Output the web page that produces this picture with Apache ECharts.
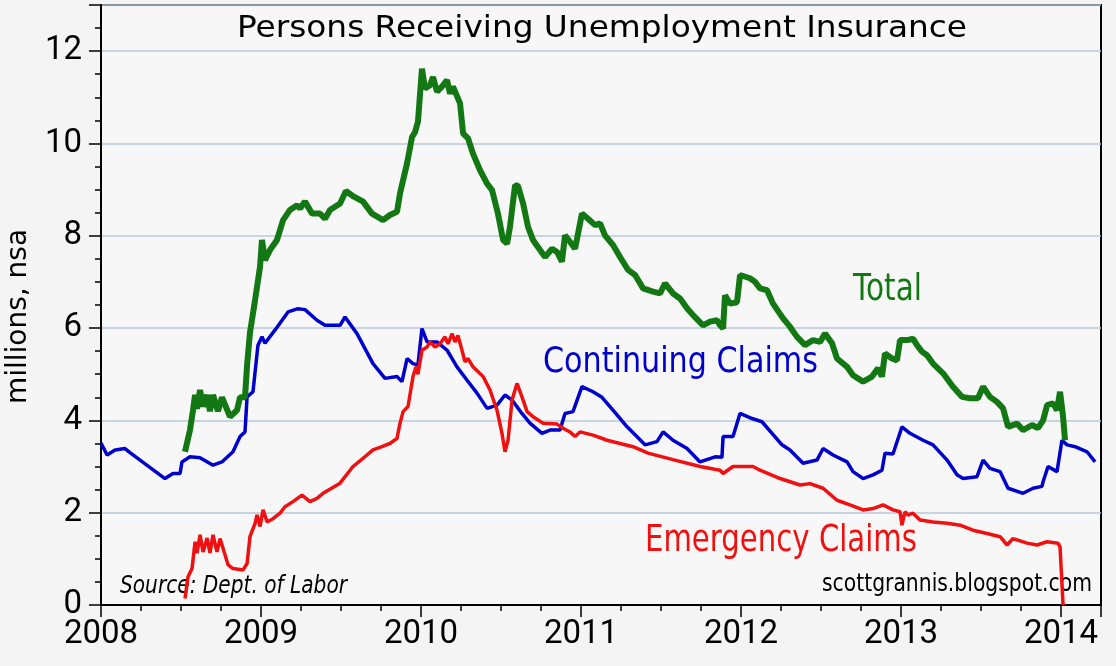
<!DOCTYPE html>
<html>
<head>
<meta charset="utf-8">
<title>Persons Receiving Unemployment Insurance</title>
<script src="https://cdn.jsdelivr.net/npm/echarts@6/dist/echarts.min.js"></script>
<style>
  html, body { margin: 0; padding: 0; background: #f4f4f4; }
  #chart { width: 1116px; height: 666px; }
</style>
</head>
<body>
<div id="chart"></div>
<script>
// millions of persons, nsa; x = decimal year
const continuingClaims = [
  [2008.000, 3.51], [2008.038, 3.25], [2008.088, 3.36], [2008.150, 3.39], [2008.181, 3.30],
  [2008.400, 2.74], [2008.450, 2.85], [2008.494, 2.85], [2008.506, 3.10], [2008.556, 3.21],
  [2008.619, 3.19], [2008.700, 3.03], [2008.756, 3.10], [2008.825, 3.32], [2008.869, 3.65],
  [2008.900, 3.75], [2008.913, 4.51], [2008.950, 4.62], [2008.981, 5.63], [2009.006, 5.81],
  [2009.025, 5.67], [2009.088, 5.96], [2009.169, 6.35], [2009.231, 6.42], [2009.275, 6.40],
  [2009.350, 6.17], [2009.400, 6.06], [2009.494, 6.06], [2009.525, 6.24], [2009.600, 5.88],
  [2009.700, 5.23], [2009.775, 4.91], [2009.850, 4.95], [2009.881, 4.84], [2009.913, 5.34],
  [2009.950, 5.23], [2009.981, 5.20], [2010.006, 5.99], [2010.038, 5.70], [2010.100, 5.70],
  [2010.163, 5.52], [2010.225, 5.16], [2010.288, 4.87], [2010.350, 4.59], [2010.413, 4.26],
  [2010.475, 4.33], [2010.525, 4.55], [2010.569, 4.44], [2010.631, 4.15], [2010.681, 3.94],
  [2010.756, 3.72], [2010.806, 3.79], [2010.869, 3.79], [2010.900, 4.15], [2010.950, 4.19],
  [2011.006, 4.73], [2011.075, 4.62], [2011.131, 4.50], [2011.200, 4.22], [2011.288, 3.86],
  [2011.400, 3.47], [2011.475, 3.54], [2011.513, 3.75], [2011.575, 3.57], [2011.663, 3.39],
  [2011.744, 3.10], [2011.838, 3.21], [2011.881, 3.20], [2011.888, 3.65], [2011.950, 3.65],
  [2011.994, 4.15], [2012.069, 4.04], [2012.131, 3.97], [2012.256, 3.47], [2012.306, 3.36],
  [2012.388, 3.07], [2012.475, 3.14], [2012.513, 3.39], [2012.575, 3.25], [2012.663, 3.10],
  [2012.700, 2.89], [2012.763, 2.74], [2012.825, 2.82], [2012.881, 2.92], [2012.900, 3.29],
  [2012.950, 3.27], [2013.006, 3.86], [2013.056, 3.72], [2013.138, 3.57], [2013.200, 3.47],
  [2013.288, 3.14], [2013.350, 2.82], [2013.388, 2.74], [2013.475, 2.78], [2013.513, 3.14],
  [2013.556, 2.96], [2013.619, 2.89], [2013.669, 2.53], [2013.763, 2.42], [2013.825, 2.53],
  [2013.881, 2.57], [2013.888, 2.67], [2013.919, 3.00], [2013.975, 2.89], [2014.006, 3.57],
  [2014.038, 3.47], [2014.088, 3.43], [2014.163, 3.32], [2014.213, 3.10]
];

const emergencyClaims = [
  [2008.525, 0.14], [2008.544, 0.61], [2008.569, 0.79], [2008.588, 1.37], [2008.600, 1.12],
  [2008.619, 1.52], [2008.638, 1.15], [2008.663, 1.45], [2008.681, 1.13], [2008.700, 1.52],
  [2008.725, 1.15], [2008.744, 1.44], [2008.794, 0.87], [2008.825, 0.79], [2008.888, 0.76],
  [2008.913, 0.90], [2008.931, 1.48], [2008.963, 1.77], [2008.975, 1.95], [2008.994, 1.70],
  [2009.013, 2.06], [2009.038, 1.80], [2009.075, 1.87], [2009.119, 1.99], [2009.150, 2.13],
  [2009.200, 2.24], [2009.256, 2.38], [2009.306, 2.24], [2009.350, 2.31], [2009.388, 2.42],
  [2009.494, 2.64], [2009.575, 3.00], [2009.638, 3.18], [2009.700, 3.36], [2009.756, 3.43],
  [2009.806, 3.50], [2009.850, 3.61], [2009.869, 3.94], [2009.888, 4.19], [2009.919, 4.30],
  [2009.950, 4.95], [2009.969, 5.16], [2009.981, 5.00], [2010.006, 5.52], [2010.038, 5.59],
  [2010.056, 5.70], [2010.088, 5.59], [2010.119, 5.66], [2010.150, 5.81], [2010.169, 5.66],
  [2010.194, 5.88], [2010.213, 5.70], [2010.231, 5.84], [2010.256, 5.52], [2010.275, 5.27],
  [2010.294, 5.34], [2010.325, 5.16], [2010.388, 4.95], [2010.431, 4.66], [2010.475, 4.22],
  [2010.506, 3.72], [2010.525, 3.32], [2010.544, 3.57], [2010.569, 4.44], [2010.600, 4.80],
  [2010.631, 4.51], [2010.663, 4.19], [2010.700, 4.08], [2010.763, 3.94], [2010.850, 3.92],
  [2010.888, 3.83], [2010.931, 3.75], [2010.963, 3.65], [2010.994, 3.75], [2011.075, 3.68],
  [2011.163, 3.57], [2011.244, 3.50], [2011.325, 3.43], [2011.419, 3.29], [2011.575, 3.15],
  [2011.744, 3.00], [2011.869, 2.92], [2011.888, 2.85], [2011.950, 3.00], [2012.075, 3.00],
  [2012.119, 2.92], [2012.244, 2.74], [2012.369, 2.60], [2012.431, 2.63], [2012.513, 2.53],
  [2012.600, 2.27], [2012.681, 2.17], [2012.763, 2.06], [2012.825, 2.09], [2012.888, 2.17],
  [2012.950, 2.06], [2012.994, 2.02], [2013.006, 1.73], [2013.025, 2.02], [2013.044, 1.95],
  [2013.075, 1.99], [2013.119, 1.84], [2013.200, 1.80], [2013.288, 1.77], [2013.369, 1.73],
  [2013.450, 1.62], [2013.538, 1.55], [2013.619, 1.48], [2013.663, 1.30], [2013.700, 1.44],
  [2013.788, 1.34], [2013.850, 1.30], [2013.913, 1.37], [2013.981, 1.34], [2013.994, 1.26],
  [2014.013, 0.00]
];

const totalClaims = [
  [2008.525, 3.32], [2008.556, 3.79], [2008.575, 4.22], [2008.588, 4.55], [2008.600, 4.25],
  [2008.619, 4.66], [2008.638, 4.30], [2008.663, 4.55], [2008.681, 4.20], [2008.700, 4.55],
  [2008.731, 4.20], [2008.756, 4.50], [2008.806, 4.08], [2008.850, 4.22], [2008.869, 4.50],
  [2008.900, 4.50], [2008.913, 5.20], [2008.931, 5.90], [2008.963, 6.61], [2008.994, 7.33],
  [2009.006, 7.91], [2009.025, 7.47], [2009.056, 7.69], [2009.100, 7.91], [2009.138, 8.34],
  [2009.181, 8.56], [2009.225, 8.66], [2009.244, 8.59], [2009.275, 8.74], [2009.319, 8.48],
  [2009.369, 8.48], [2009.400, 8.37], [2009.431, 8.56], [2009.494, 8.70], [2009.531, 8.97],
  [2009.575, 8.86], [2009.638, 8.74], [2009.694, 8.48], [2009.763, 8.34], [2009.806, 8.45],
  [2009.850, 8.52], [2009.869, 8.92], [2009.913, 9.57], [2009.944, 10.14], [2009.963, 10.25],
  [2009.981, 10.47], [2010.006, 11.62], [2010.025, 11.19], [2010.056, 11.26], [2010.075, 11.44],
  [2010.100, 11.12], [2010.131, 11.23], [2010.163, 11.37], [2010.181, 11.08], [2010.200, 11.23],
  [2010.244, 10.87], [2010.263, 10.22], [2010.294, 10.11], [2010.325, 9.78], [2010.369, 9.42],
  [2010.413, 9.13], [2010.444, 8.99], [2010.481, 8.48], [2010.513, 7.91], [2010.538, 7.83],
  [2010.556, 8.19], [2010.588, 9.10], [2010.606, 9.08], [2010.638, 8.70], [2010.669, 8.19],
  [2010.700, 7.91], [2010.744, 7.69], [2010.775, 7.54], [2010.819, 7.72], [2010.850, 7.65],
  [2010.881, 7.44], [2010.900, 8.01], [2010.931, 7.87], [2010.963, 7.72], [2011.006, 8.48],
  [2011.044, 8.37], [2011.088, 8.23], [2011.119, 8.27], [2011.150, 8.01], [2011.200, 7.80],
  [2011.244, 7.54], [2011.294, 7.26], [2011.338, 7.15], [2011.388, 6.86], [2011.450, 6.79],
  [2011.494, 6.75], [2011.525, 6.97], [2011.575, 6.75], [2011.619, 6.64], [2011.663, 6.43],
  [2011.700, 6.28], [2011.763, 6.06], [2011.806, 6.14], [2011.850, 6.17], [2011.869, 6.06],
  [2011.888, 5.99], [2011.900, 6.71], [2011.931, 6.53], [2011.975, 6.56], [2011.994, 7.15],
  [2012.056, 7.08], [2012.088, 7.00], [2012.119, 6.86], [2012.163, 6.82], [2012.200, 6.53],
  [2012.263, 6.21], [2012.306, 6.03], [2012.350, 5.81], [2012.400, 5.63], [2012.450, 5.74],
  [2012.494, 5.70], [2012.525, 5.88], [2012.569, 5.67], [2012.600, 5.34], [2012.663, 5.16],
  [2012.700, 4.98], [2012.763, 4.84], [2012.819, 4.95], [2012.856, 5.13], [2012.881, 4.95],
  [2012.900, 5.45], [2012.944, 5.34], [2012.975, 5.30], [2012.994, 5.74], [2013.038, 5.74],
  [2013.075, 5.77], [2013.100, 5.63], [2013.131, 5.49], [2013.163, 5.41], [2013.200, 5.23],
  [2013.263, 5.02], [2013.325, 4.73], [2013.381, 4.51], [2013.431, 4.48], [2013.481, 4.48],
  [2013.513, 4.73], [2013.556, 4.51], [2013.600, 4.40], [2013.638, 4.26], [2013.669, 3.86],
  [2013.725, 3.93], [2013.763, 3.79], [2013.819, 3.90], [2013.856, 3.83], [2013.888, 4.00],
  [2013.913, 4.33], [2013.950, 4.37], [2013.975, 4.22], [2013.994, 4.62], [2014.013, 4.08],
  [2014.025, 3.57]
];

const yearTicks = [2008, 2009, 2010, 2011, 2012, 2013, 2014];
const valueTicks = [0, 2, 4, 6, 8, 10, 12];

const TEXT_FONT = '"DejaVu Sans"';
const TICK_FONT = 'Roboto';
const GREEN = '#137813';
const BLUE = '#0000cc';
const RED = '#f01010';

// the original lettering is narrow, so squeeze each text to its width
const measureCtx = document.createElement('canvas').getContext('2d');
function fitText(text, font, left, right, y, color) {
  measureCtx.font = font;
  let w = measureCtx.measureText(text).width;
  return {
    type: 'text', x: left, y: y, scaleX: (right - left) / w,
    style: { text: text, font: font, fill: color, align: 'left', verticalAlign: 'middle' }
  };
}

let chart = echarts.init(document.getElementById('chart'));

let option = {
  animation: false,
  backgroundColor: '#f4f4f4',
  grid: {
    left: 101, right: 15, top: 5, bottom: 61,
    show: true,
    backgroundColor: '#f7f7f7',
    borderColor: '#000',
    borderWidth: 2
  },
  xAxis: [
    {
      type: 'value', min: 2008, max: 2014.25, interval: 0.25, position: 'bottom',
      axisLine: { lineStyle: { color: '#000', width: 2 } },
      axisTick: { length: 6, lineStyle: { color: '#000', width: 1.5 } },
      axisLabel: {
        margin: 13, fontSize: 33, color: '#000', fontFamily: TICK_FONT,
        formatter: v => yearTicks.includes(v) ? String(v) : ''
      },
      splitLine: { show: false }
    },
    {
      // long ticks on whole years
      type: 'value', min: 2008, max: 2014.25, interval: 1, position: 'bottom',
      axisLine: { show: false },
      axisTick: { length: 12, lineStyle: { color: '#000', width: 1.5 } },
      axisLabel: { show: false },
      splitLine: { show: false }
    }
  ],
  yAxis: [
    {
      type: 'value', min: 0, max: 13, interval: 0.5, position: 'left',
      axisLine: { show: true, lineStyle: { color: '#000', width: 2 } },
      axisTick: { show: true, length: 6, lineStyle: { color: '#000', width: 1.5 } },
      axisLabel: {
        margin: 19, fontSize: 33, color: '#000', fontFamily: TICK_FONT,
        formatter: v => valueTicks.includes(v) ? String(v) : ''
      },
      splitLine: { show: false }
    },
    {
      type: 'value', min: 0, max: 13, interval: 2, position: 'left',
      axisLine: { show: false },
      axisTick: { show: true, length: 12, lineStyle: { color: '#000', width: 1.5 } },
      axisLabel: { show: false },
      splitLine: { show: true, lineStyle: { color: '#b8c8da', width: 1.5 } }
    }
  ],
  series: [
    {
      name: 'Continuing Claims', type: 'line', data: continuingClaims,
      showSymbol: false, lineStyle: { color: BLUE, width: 3.5 }
    },
    {
      name: 'Emergency Claims', type: 'line', data: emergencyClaims,
      showSymbol: false, lineStyle: { color: RED, width: 3.5 }
    },
    {
      name: 'Total', type: 'line', data: totalClaims,
      showSymbol: false, lineStyle: { color: GREEN, width: 6 }
    }
  ],
  graphic: [
    fitText('Persons Receiving Unemployment Insurance', '31px ' + TEXT_FONT, 237, 967, 29, '#000'),
    fitText('Total', '38px ' + TEXT_FONT, 853, 922, 290, GREEN),
    fitText('Continuing Claims', '36px ' + TEXT_FONT, 543, 818, 362.5, BLUE),
    fitText('Emergency Claims', '38px ' + TEXT_FONT, 645, 917, 541, RED),
    fitText('Source: Dept. of Labor', 'italic 25px ' + TEXT_FONT, 120, 347, 586, '#000'),
    fitText('scottgrannis.blogspot.com', '24px ' + TEXT_FONT, 822, 1092, 585, '#000'),
    {
      type: 'text', x: 18.6, y: 316.5, rotation: Math.PI / 2,
      style: { text: 'millions, nsa', font: '28px ' + TEXT_FONT, fill: '#000', align: 'center', verticalAlign: 'middle' }
    }
  ]
};

chart.setOption(option);
</script>
</body>
</html>
